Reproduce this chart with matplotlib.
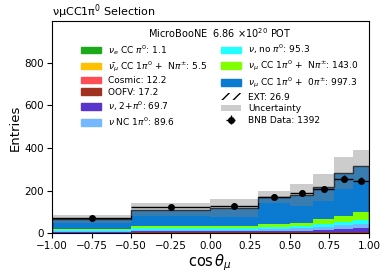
import matplotlib
matplotlib.use("Agg")
import matplotlib.pyplot as plt
import matplotlib.patches as patches
import numpy as np

# binning in cos(theta_mu)
bin_edges = [-1.0, -0.5, 0.0, 0.3, 0.5, 0.65, 0.78, 0.9, 1.0]

# stacked MC categories (bottom -> top), entries per bin
nue_cc = [0.05, 0.1, 0.1, 0.15, 0.15, 0.15, 0.2, 0.2]
numubar_cc = [0.3, 0.5, 0.5, 0.7, 0.7, 0.9, 0.9, 1.0]
cosmic = [1.0, 1.5, 1.5, 1.5, 1.5, 1.5, 1.7, 2.0]
oofv = [1.0, 2.0, 2.0, 2.0, 2.0, 2.5, 2.7, 3.0]
multi_pi0 = [3.0, 5.0, 5.0, 7.0, 8.0, 11.0, 14.0, 16.7]
nc_1pi0 = [4.0, 7.0, 7.0, 9.0, 10.0, 14.0, 18.0, 20.6]
no_pi0 = [6.0, 10.0, 9.0, 10.0, 10.0, 14.0, 16.0, 20.3]
cc_1pi0_npi = [5.0, 10.0, 10.0, 14.0, 16.0, 25.0, 28.0, 35.0]
cc_1pi0_0pi = [42.0, 69.0, 77.0, 124.0, 130.0, 144.0, 199.0, 212.3]
ext = [4.0, 6.0, 5.0, 3.0, 2.0, 2.0, 2.0, 2.9]

# systematic uncertainty on total prediction
unc = [19, 31, 42, 28, 51, 63, 73, 77]

# BNB data
data = [73, 121, 130, 171, 190, 206, 255, 246]

stack_names = [r"$\nu_e$ CC $\pi^0$", r"$\bar{\nu_\mu}$ CC 1$\pi^0$ +  N$\pi^{\pm}$",
               "Cosmic", "OOFV", r"$\nu$, 2+$\pi^0$", r"$\nu$ NC 1$\pi^0$",
               r"$\nu$, no $\pi^0$", r"$\nu_\mu$ CC 1$\pi^0$ +  N$\pi^{\pm}$",
               r"$\nu_\mu$ CC 1$\pi^0$ +  0$\pi^{\pm}$"]
stack_vals = [nue_cc, numubar_cc, cosmic, oofv, multi_pi0, nc_1pi0, no_pi0,
              cc_1pi0_npi, cc_1pi0_0pi]
stack_colors = ["#1aaa1a", "#ffc000", "#ff4d55", "#a03020", "#5a35cc",
                "#74b9ff", "#22ffff", "#80ff00", "#0a7bd0"]

edges = np.array(bin_edges)
left = edges[:-1]
width = np.diff(edges)
centers = left + width / 2

fig, ax = plt.subplots(figsize=(3.9, 2.79), dpi=100)
fig.subplots_adjust(left=0.133, right=0.946, top=0.923, bottom=0.164)

handles = []
bottom = np.zeros(len(left))
for name, vals, c in zip(stack_names, stack_vals, stack_colors):
    vals = np.array(vals)
    ax.bar(left, vals, width=width, bottom=bottom, align="edge", color=c, lw=0)
    handles.append(patches.Patch(color=c, label="{}: {:.1f}".format(name, vals.sum())))
    bottom = bottom + vals

ext = np.array(ext)
ax.bar(left, ext, width=width, bottom=bottom, align="edge", fill=False,
       hatch="//", edgecolor="black", lw=0)
handles.append(patches.Patch(fill=False, hatch="///", edgecolor="black", lw=0,
                             label="EXT: {:.1f}".format(ext.sum())))
total = bottom + ext

# total line
ax.stairs(total, edges, color="black", lw=1.0)

# uncertainty band
unc = np.array(unc)
ax.stairs(total + unc, edges, baseline=total - unc, fill=True, color="gray",
          alpha=0.4, lw=0)
handles.append(patches.Patch(color="gray", alpha=0.4, lw=0, label="Uncertainty"))

# data
data = np.array(data)
eb = ax.errorbar(centers, data, xerr=width / 2, yerr=np.sqrt(data), fmt="o",
                 color="black", ms=4, lw=1, capsize=0,
                 label="BNB Data: {}".format(data.sum()))
handles.append(eb)

ax.legend(handles=handles, ncol=2, frameon=False, fontsize=6.5, loc="upper center",
          bbox_to_anchor=(0.53, 1.015), labelspacing=0.28, columnspacing=1.5,
          handlelength=2.2, title=r"MicroBooNE  6.86 $\times 10^{20}$ POT",
          title_fontsize=7)

ax.set_xlim(-1, 1)
ax.set_ylim(0, 993)
ax.set_xticks([-1, -0.75, -0.5, -0.25, 0, 0.25, 0.5, 0.75, 1.0])
ax.set_yticks([0, 200, 400, 600, 800])
ax.tick_params(labelsize=7.5, pad=2)
ax.set_xlabel(r"$\cos\theta_\mu$", fontsize=10.5, labelpad=1)
ax.set_ylabel("Entries", fontsize=9.5, labelpad=2)
ax.set_title(r"νμCC1π$^0$ Selection", loc="left", fontsize=8, pad=3)

fig.savefig("out.png", dpi=100)
